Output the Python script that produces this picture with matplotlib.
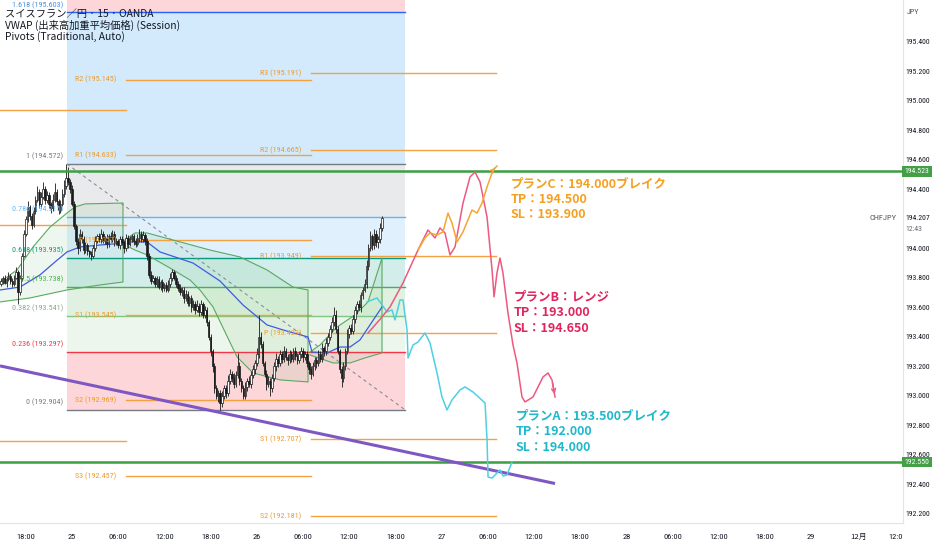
import matplotlib
matplotlib.use("Agg")
import matplotlib.pyplot as plt
import matplotlib.transforms as mtransforms
from matplotlib import font_manager
import numpy as np

plt.rcParams['font.family'] = ['Noto Sans CJK JP', 'DejaVu Sans']
_avail = {f.name for f in font_manager.fontManager.ttflist}
NARROW = next((f for f in ['Liberation Sans Narrow', 'DejaVu Sans Condensed', 'Roboto Condensed',
                           'Roboto', 'DejaVu Sans'] if f in _avail), 'DejaVu Sans')

# ---------------- data ----------------
# time unit: hours relative to 25th 00:00 ; 15-minute bars
bar_start = -9.25
bar_step = 0.25
first_open = 193.760
closes = [
    193.780, 193.800, 193.765, 193.790, 193.815, 193.780, 193.760, 193.800, 193.840, 193.700,
    193.800, 193.950, 194.100, 194.200, 194.280, 194.220, 194.160, 194.250, 194.330, 194.380,
    194.300, 194.350, 194.400, 194.330, 194.360, 194.300, 194.270, 194.330, 194.380, 194.320,
    194.260, 194.300, 194.370, 194.420, 194.480, 194.450, 194.400, 194.300, 194.150, 194.050,
    194.000, 194.100, 194.060, 193.990, 194.020, 193.980, 193.960, 193.950, 194.000, 194.050,
    194.080, 194.060, 194.100, 194.050, 194.070, 194.030, 194.080, 194.060, 194.100, 194.040,
    194.050, 194.020, 194.060, 194.040, 194.000, 194.070, 194.030, 194.060, 194.080, 194.050,
    194.030, 194.070, 194.100, 194.060, 194.090, 194.050, 193.950, 193.820, 193.780, 193.800,
    193.760, 193.790, 193.740, 193.770, 193.730, 193.750, 193.720, 193.760, 193.800, 193.840,
    193.800, 193.760, 193.730, 193.700, 193.720, 193.660, 193.690, 193.630, 193.660, 193.600,
    193.620, 193.580, 193.610, 193.570, 193.620, 193.550, 193.580, 193.500, 193.400, 193.300,
    193.200, 193.050, 193.000, 193.020, 192.950, 193.000, 193.050, 193.020, 193.100, 193.150,
    193.120, 193.080, 193.140, 193.200, 193.100, 193.050, 193.000, 193.060, 193.100, 193.080,
    193.140, 193.180, 193.220, 193.280, 193.400, 193.350, 193.220, 193.150, 193.080, 193.100,
    193.050, 193.120, 193.200, 193.250, 193.220, 193.280, 193.250, 193.300, 193.260, 193.240,
    193.280, 193.250, 193.300, 193.270, 193.240, 193.280, 193.300, 193.260, 193.280, 193.220,
    193.180, 193.150, 193.200, 193.240, 193.220, 193.280, 193.250, 193.320, 193.300, 193.360,
    193.400, 193.450, 193.500, 193.550, 193.450, 193.300, 193.180, 193.120, 193.200, 193.300,
    193.420, 193.460, 193.440, 193.520, 193.580, 193.620, 193.600, 193.680, 193.720, 193.760,
    193.880, 194.000, 194.080, 194.020, 194.100, 194.040, 194.060, 194.140, 194.207,
]
# wick lengths in thousandths of a yen
upper_wick = [
    15, 10, 20, 12, 25, 10, 15, 20, 30, 10, 20, 15, 25, 20, 40, 15, 20, 30, 25, 40,
    20, 30, 50, 25, 30, 20, 15, 40, 60, 20, 15, 25, 30, 40, 92, 70, 20, 30, 20, 15,
    20, 30, 15, 20, 25, 15, 10, 20, 25, 30, 20, 25, 30, 20, 15, 25, 20, 30, 25, 15,
    20, 15, 25, 20, 15, 30, 20, 25, 20, 15, 20, 25, 30, 20, 25, 15, 20, 15, 25, 20,
    15, 25, 20, 15, 20, 15, 20, 25, 30, 20, 15, 20, 15, 25, 20, 15, 25, 20, 15, 20,
    30, 25, 40, 20, 30, 15, 25, 20, 15, 20, 15, 20, 25, 20, 15, 30, 25, 20, 40, 30,
    20, 35, 25, 90, 30, 20, 25, 30, 20, 35, 25, 30, 20, 40, 150, 30, 20, 15, 25, 30,
    20, 30, 25, 40, 20, 30, 25, 35, 20, 25, 30, 20, 25, 30, 20, 25, 30, 20, 25, 20,
    15, 20, 30, 25, 20, 30, 25, 35, 20, 30, 25, 30, 35, 50, 30, 20, 15, 20, 30, 25,
    30, 20, 25, 30, 25, 20, 30, 25, 20, 30, 40, 30, 40, 20, 30, 25, 20, 30, 13,
]
lower_wick = [
    15, 20, 10, 25, 15, 20, 25, 15, 10, 80, 15, 20, 10, 15, 20, 30, 30, 15, 20, 15,
    25, 20, 15, 30, 20, 25, 30, 20, 15, 25, 30, 20, 15, 20, 15, 20, 25, 15, 20, 30,
    40, 20, 25, 30, 20, 25, 20, 30, 15, 20, 15, 20, 25, 15, 20, 25, 20, 15, 20, 25,
    15, 20, 25, 15, 35, 20, 25, 15, 20, 25, 20, 15, 25, 20, 15, 25, 30, 20, 25, 15,
    20, 25, 15, 20, 25, 20, 20, 15, 25, 20, 15, 25, 20, 15, 25, 30, 20, 25, 20, 30,
    20, 25, 15, 30, 20, 25, 20, 30, 25, 30, 40, 30, 25, 40, 46, 30, 20, 35, 25, 20,
    30, 25, 20, 20, 30, 25, 20, 25, 30, 20, 25, 20, 30, 20, 25, 30, 20, 25, 40, 20,
    50, 25, 20, 30, 25, 20, 30, 25, 20, 30, 20, 25, 20, 30, 25, 20, 25, 30, 20, 25,
    30, 40, 20, 25, 30, 20, 25, 20, 30, 25, 20, 25, 20, 30, 25, 20, 25, 60, 30, 25,
    20, 30, 25, 20, 30, 25, 20, 30, 25, 20, 30, 25, 20, 30, 25, 30, 40, 25, 20,
]

# VWAP (session) and its bands: (hours, price)
vwap_t = [-9.35, -6.75, -4.16, -2.21, -0.65, 1.04, 3.64, 6.88, 7.14, 9.74, 11.43, 15.71, 19.22,
          22.21, 25.32, 27.40, 30.65, 31.17, 33.12, 34.81, 36.10, 37.40, 38.70, 40.26]
vwap_p = [193.717, 193.737, 193.819, 193.907, 193.975, 194.009, 194.022, 194.036, 194.043, 194.043,
          193.975, 193.900, 193.778, 193.615, 193.480, 193.446, 193.398, 193.296, 193.290, 193.330,
          193.330, 193.378, 193.480, 193.602]
band1_up_t = [-9.35, -7.14, -5.06, -2.86, -0.65, 0.39, 1.69, 6.62]
band1_up_p = [193.771, 193.853, 194.009, 194.144, 194.239, 194.280, 194.301, 194.307]
band1_lo_t = [-9.35, -5.45, -0.65, 3.64, 6.62]
band1_lo_p = [193.636, 193.663, 193.717, 193.751, 193.771]
band2_up_t = [6.88, 8.18, 9.74, 13.12, 17.92, 21.82, 25.32, 28.70, 30.65]
band2_up_p = [194.056, 194.104, 194.104, 194.056, 193.988, 193.941, 193.853, 193.737, 193.717]
band2_lo_t = [6.88, 8.18, 9.74, 12.73, 15.32, 16.62, 18.31, 21.43, 23.51, 27.01, 30.65]
band2_lo_p = [194.022, 193.988, 193.955, 193.866, 193.785, 193.717, 193.602, 193.263, 193.154, 193.107, 193.093]
band3_up_t = [30.91, 32.21, 34.42, 36.75, 38.44, 40.26]
band3_up_p = [193.296, 193.344, 193.466, 193.548, 193.636, 193.934]
band3_lo_t = [30.91, 33.90, 36.10, 38.05, 40.26]
band3_lo_p = [193.276, 193.222, 193.222, 193.256, 193.290]

# Fibonacci retracement
fib_ratios = ['1.618', '1', '0.786', '0.618', '0.5', '0.382', '0.236', '0']
fib_prices = [195.603, 194.572, 194.215, 193.935, 193.738, 193.541, 193.297, 192.904]
fib_colors = ['#2962ff', '#787b86', '#64b5f6', '#089981', '#4caf50', '#81c784', '#f23645', '#787b86']
fib_fill_colors = ['#2196f3', '#9598a1', '#64b5f6', '#26a69a', '#66bb6a', '#a5d6a7', '#f23645']
fib_label_colors = ['#4a8fe0', '#787b86', '#64b5f6', '#089981', '#4caf50', '#8aa88a', '#f23645', '#787b86']
fib_top_color = '#f23645'
fib_t0, fib_t1 = -0.65, 43.25

# Pivots (Traditional): session spans and levels
pivA_span = (-9.4, 7.0)
pivA_prices = [194.938, 194.158, 192.692]
pivB_span = (7.0, 31.0)
pivB_names = ['R2', 'R1', 'P', 'S1', 'S2', 'S3']
pivB_prices = [195.145, 194.633, 194.057, 193.545, 192.969, 192.457]
pivC_span = (31.0, 55.0)
pivC_names = ['R3', 'R2', 'R1', 'P', 'S1', 'S2']
pivC_prices = [195.191, 194.665, 193.949, 193.423, 192.707, 192.181]

# horizontal lines and trendline
hlines = [194.523, 192.550]
trend_t = [-9.35, 62.73]
trend_p = [193.202, 192.404]

# hand drawn scenarios
planB_t = [38.44, 39.99, 41.30, 42.99, 44.94, 46.23, 47.14, 47.79, 48.44, 49.09, 49.74, 50.78, 51.69,
           52.34, 52.99, 53.90, 54.55, 54.81, 55.19, 55.58, 55.97, 56.62, 57.27, 57.79, 58.44, 58.83,
           59.87, 61.17, 61.82, 62.34, 62.73]
planB_p = [193.425, 193.517, 193.602, 193.765, 193.989, 194.124, 194.070, 194.138, 194.104, 193.955,
           194.009, 194.307, 194.484, 194.517, 194.450, 194.212, 193.853, 193.670, 193.832, 193.934,
           193.832, 193.561, 193.344, 193.222, 192.991, 192.957, 192.991, 193.127, 193.154, 193.106,
           192.991]
planC_t = [44.94, 45.84, 46.49, 47.40, 48.18, 48.83, 49.35, 50.00, 50.78, 51.95, 52.60, 53.25, 53.90,
           54.68, 55.19]
planC_p = [193.989, 194.070, 194.104, 194.090, 194.111, 194.239, 194.171, 194.043, 194.111, 194.260,
           194.239, 194.307, 194.416, 194.531, 194.558]
planA_t = [38.31, 39.61, 40.26, 40.91, 41.56, 41.95, 42.60, 42.99, 43.51, 43.64, 44.29, 44.94, 45.84,
           46.49, 47.40, 48.05, 48.70, 49.35, 50.39, 51.04, 52.08, 53.64, 53.90, 54.03, 54.55, 55.19,
           55.58, 55.97, 56.49, 57.14]
planA_p = [193.636, 193.663, 193.616, 193.568, 193.582, 193.514, 193.649, 193.649, 193.445, 193.256,
           193.344, 193.364, 193.425, 193.358, 193.154, 192.991, 192.903, 192.971, 193.039, 193.059,
           193.025, 192.950, 192.699, 192.448, 192.441, 192.475, 192.496, 192.455, 192.462, 192.550]

planC_text = "プランC：194.000ブレイク\nTP：194.500\nSL：193.900"
planB_text = "プランB：レンジ\nTP：193.000\nSL：194.650"
planA_text = "プランA：193.500ブレイク\nTP：192.000\nSL：194.000"

price_ticks = [192.2, 192.4, 192.6, 192.8, 193.0, 193.2, 193.4, 193.6, 193.8, 194.0,
               194.4, 194.6, 194.8, 195.0, 195.2, 195.4]
time_ticks = [-6, 0, 6, 12, 18, 24, 30, 36, 42, 48, 54, 60, 66, 72, 78, 84, 90, 96, 102.1, 106.9]
time_labels = ['18:00', '25', '06:00', '12:00', '18:00', '26', '06:00', '12:00', '18:00', '27',
               '06:00', '12:00', '18:00', '28', '06:00', '12:00', '18:00', '29', '12月', '12:0']
last_price = 194.207

# ---------------- figure ----------------
fig = plt.figure(figsize=(9.32, 5.5), dpi=100)
ax = fig.add_axes([0, 1 - 523 / 550, 903 / 932, 523 / 550])
ax.set_xlim(-9.351, 107.92)
ax.set_ylim(192.136, 195.6845)
ax.set_facecolor('white')

# Fibonacci fills
ax.fill_between([fib_t0, fib_t1], fib_prices[0], 195.6845, color=fib_top_color, alpha=0.2, lw=0, zorder=1)
for k in range(len(fib_prices) - 1):
    ax.fill_between([fib_t0, fib_t1], fib_prices[k + 1], fib_prices[k], color=fib_fill_colors[k],
                    alpha=0.2, lw=0, zorder=1)
for k, (r, p) in enumerate(zip(fib_ratios, fib_prices)):
    ax.plot([fib_t0, fib_t1], [p, p], color=fib_colors[k], lw=1.0, zorder=2)
    ax.annotate(f"{r} ({p:.3f})", xy=(fib_t0 - 0.5, p), xytext=(0, 2.5), textcoords='offset points',
                ha='right', va='bottom', fontsize=5.8, color=fib_label_colors[k], zorder=7,
                family=NARROW)
ax.plot([fib_t0, fib_t1], [fib_prices[1], fib_prices[-1]], color='#8a8d96', lw=0.8,
        ls=(0, (3, 3)), zorder=2)

# VWAP band fills & lines
for ut, up, lt, lp in [(band1_up_t, band1_up_p, band1_lo_t, band1_lo_p),
                       (band2_up_t, band2_up_p, band2_lo_t, band2_lo_p),
                       (band3_up_t, band3_up_p, band3_lo_t, band3_lo_p)]:
    xs = list(ut) + list(lt[::-1])
    ys = list(up) + list(lp[::-1])
    ax.fill(xs, ys, color='#4caf50', alpha=0.09, lw=0, zorder=1.5)
    ax.plot(xs, ys, color='#5aa862', lw=0.8, zorder=3)
ax.plot(vwap_t, vwap_p, color='#3f5be0', lw=0.9, zorder=3)

# Pivots
def draw_pivots(span, names, prices):
    for i, p in enumerate(prices):
        ax.plot(span, [p, p], color='#f5a142', lw=1.0, zorder=2)
        if names is not None:
            ax.text(span[0] - 1.2, p, f"{names[i]} ({p:.3f})", ha='right', va='center',
                    fontsize=5.8, color='#f09a2a', zorder=7, family=NARROW)

draw_pivots(pivA_span, None, pivA_prices)
draw_pivots(pivB_span, pivB_names, pivB_prices)
draw_pivots(pivC_span, pivC_names, pivC_prices)

# Candles
n = min(len(closes), len(upper_wick), len(lower_wick))
opens = [first_open] + closes[:n - 1]
for i in range(n):
    t = bar_start + bar_step * i
    o, c = opens[i], closes[i]
    hi = max(o, c) + upper_wick[i] / 1000.0
    lo = min(o, c) - lower_wick[i] / 1000.0
    ax.vlines(t, lo, hi, color='#1a1a1a', lw=0.6, zorder=4)
    body = max(abs(c - o), 0.004)
    if c >= o:
        ax.bar(t, body, bottom=min(o, c), width=0.19, color='white', edgecolor='#1a1a1a',
               lw=0.5, zorder=4.5)
    else:
        ax.bar(t, body, bottom=min(o, c), width=0.19, color='#1a1a1a', edgecolor='#1a1a1a',
               lw=0.5, zorder=4.5)

# Horizontal green lines & trendline
for h in hlines:
    ax.axhline(h, color='#3c9f44', lw=1.8, zorder=5)
ax.plot(trend_t, trend_p, color='#7e57c2', lw=2.2, zorder=5, solid_capstyle='butt')

# Scenario drawings
ax.plot(planA_t, planA_p, color='#4dd0e1', lw=1.1, zorder=6)
ax.plot(planB_t, planB_p, color='#ec5a80', lw=1.1, zorder=6)
ax.plot(planC_t, planC_p, color='#f7a533', lw=1.1, zorder=6)
ax.annotate('', xy=(planB_t[-1], planB_p[-1]), xytext=(planB_t[-2], planB_p[-2]),
            arrowprops=dict(arrowstyle='->', color='#ec5a80', lw=1.1, mutation_scale=7), zorder=6)
ax.annotate('', xy=(planC_t[-1], planC_p[-1]), xytext=(planC_t[-2], planC_p[-2]),
            arrowprops=dict(arrowstyle='->', color='#f7a533', lw=1.1, mutation_scale=7), zorder=6)

ax.text(57.01, 194.485, planC_text, color='#f5a020', fontsize=9.0, fontweight='bold',
        va='top', ha='left', linespacing=1.28, zorder=7)
ax.text(57.40, 193.715, planB_text, color='#e0255f', fontsize=9.0, fontweight='bold',
        va='top', ha='left', linespacing=1.28, zorder=7)
ax.text(57.66, 192.91, planA_text, color='#1fb8cc', fontsize=9.0, fontweight='bold',
        va='top', ha='left', linespacing=1.28, zorder=7)

# Axes styling
for s in ['top', 'left']:
    ax.spines[s].set_visible(False)
ax.spines['right'].set_color('#e0e3eb')
ax.spines['bottom'].set_color('#e0e3eb')
ax.spines['right'].set_linewidth(0.8)
ax.spines['bottom'].set_linewidth(0.8)

ax.yaxis.tick_right()
ax.set_yticks(price_ticks)
ax.set_yticklabels([f"{v:.3f}" for v in price_ticks], family=NARROW)
ax.tick_params(axis='y', length=0, pad=2.0, labelsize=5.6, labelcolor='#131722')
ax.set_xticks(time_ticks)
ax.set_xticklabels(time_labels)
ax.tick_params(axis='x', length=0, pad=10, labelsize=6.0, labelcolor='#131722')
for lab in ax.get_xticklabels():
    lab.set_va('center')
    if lab.get_text() == '12月':
        lab.set_family(['Noto Sans CJK JP'])
        lab.set_fontsize(5.6)
    else:
        lab.set_family([NARROW])

blend = mtransforms.blended_transform_factory(ax.transAxes, ax.transData)
for h in hlines:
    ax.text(1.002, h, f"{h:.3f}", transform=blend, ha='left', va='center', fontsize=5.6,
            color='white', zorder=8, clip_on=False, family=NARROW,
            bbox=dict(boxstyle='square,pad=0.3', fc='#43a047', ec='none'))
ax.text(1.003, last_price, f"{last_price:.3f}", transform=blend, ha='left', va='center',
        fontsize=5.6, color='#131722', clip_on=False, family=NARROW)
ax.annotate("12:43", xy=(1.003, last_price), xycoords=blend, xytext=(0, -8),
            textcoords='offset points', ha='left', va='center', fontsize=5.6, color='#6a6d78',
            annotation_clip=False, family=NARROW)
ax.text(0.993, last_price, "CHFJPY", transform=blend, ha='right', va='center', fontsize=6.0,
        color='#50535e', zorder=8, family=NARROW)

fig.text(913 / 932, 1 - 12 / 550, "JPY", ha='center', va='center', fontsize=5.8, color='#50535e',
         family=NARROW)

fig.text(5 / 932, 1 - 13.5 / 550, "スイスフラン／円 · 15 · OANDA", ha='left', va='center',
         fontsize=7.4, color='#131722', zorder=9)
fig.text(5 / 932, 1 - 25 / 550, "VWAP (出来高加重平均価格) (Session)", ha='left', va='center',
         fontsize=7.4, color='#131722', zorder=9)
fig.text(5 / 932, 1 - 36.5 / 550, "Pivots (Traditional, Auto)", ha='left', va='center',
         fontsize=7.4, color='#131722', zorder=9)

fig.savefig("out.png", dpi=100, facecolor='white')
